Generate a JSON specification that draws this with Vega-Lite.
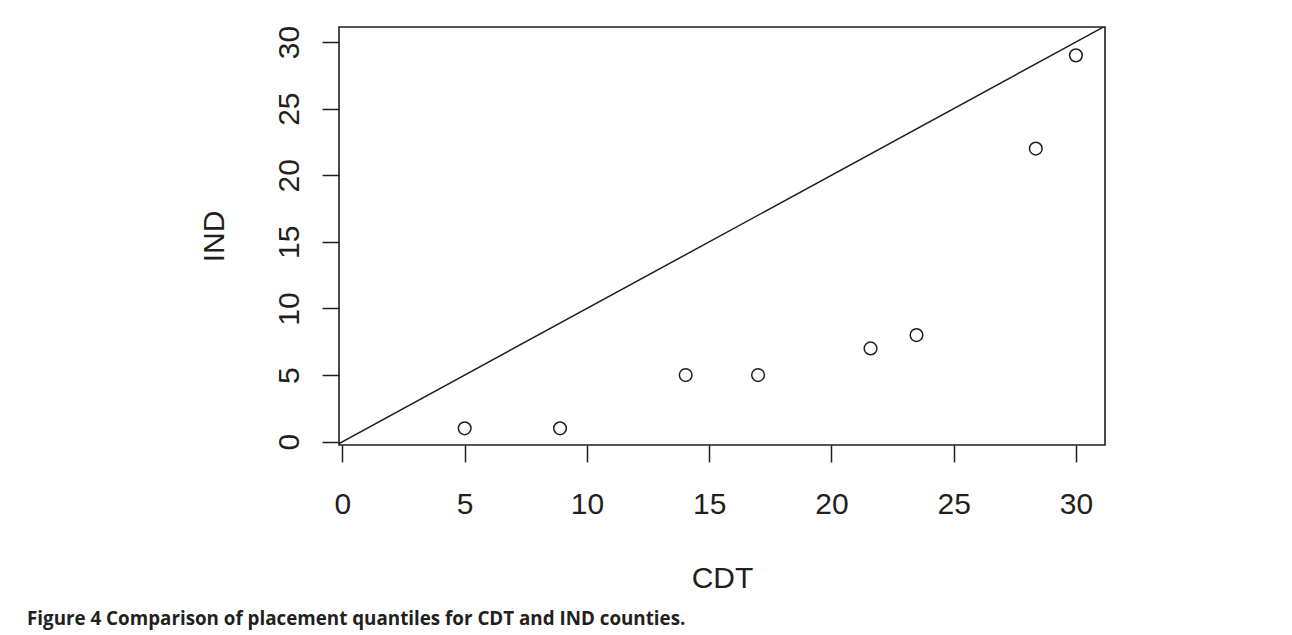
{
  "$schema": "https://vega.github.io/schema/vega-lite/v6.json",
  "autosize": {"type": "none"},
  "width": 766,
  "height": 418,
  "padding": {"left": 339, "top": 27, "right": 187, "bottom": 190},
  "background": "white",
  "title": {
    "text": "Figure 4 Comparison of placement quantiles for CDT and IND counties.",
    "orient": "bottom",
    "anchor": "start",
    "frame": "group",
    "dx": -312,
    "offset": 32,
    "baseline": "alphabetic",
    "font": "Open Sans",
    "fontWeight": "bold",
    "fontSize": 18.8,
    "color": "#231f20"
  },
  "config": {
    "view": {"stroke": "#231f20", "strokeWidth": 1.6},
    "axis": {
      "domain": false,
      "grid": false,
      "ticks": true,
      "tickColor": "#231f20",
      "tickWidth": 1.5,
      "tickSize": 17,
      "labelFont": "Liberation Sans",
      "labelFontSize": 30,
      "labelColor": "#231f20",
      "titleFont": "Liberation Sans",
      "titleFontSize": 30,
      "titleFontWeight": "normal",
      "titleColor": "#231f20"
    }
  },
  "layer": [
    {
      "data": {"values": [
        {"CDT": -0.3, "IND": -0.3},
        {"CDT": 31.3, "IND": 31.3}
      ]},
      "mark": {"type": "line", "color": "#231f20", "strokeWidth": 1.5, "clip": true},
      "encoding": {
        "x": {"field": "CDT", "type": "quantitative"},
        "y": {"field": "IND", "type": "quantitative"}
      }
    },
    {
      "data": {"values": [
        {"CDT": 5.0, "IND": 1},
        {"CDT": 8.9, "IND": 1},
        {"CDT": 14.04, "IND": 5},
        {"CDT": 17.0, "IND": 5},
        {"CDT": 21.6, "IND": 7},
        {"CDT": 23.48, "IND": 8},
        {"CDT": 28.36, "IND": 22},
        {"CDT": 30.0, "IND": 29}
      ]},
      "mark": {"type": "point", "shape": "circle", "filled": false, "size": 160, "stroke": "#231f20", "strokeWidth": 1.5, "opacity": 1},
      "encoding": {
        "x": {
          "field": "CDT", "type": "quantitative",
          "scale": {"domain": [-0.14, 31.19], "nice": false, "zero": false},
          "axis": {
            "title": "CDT",
            "values": [0, 5, 10, 15, 20, 25, 30],
            "labelBaseline": "alphabetic",
            "labelPadding": 51,
            "labelFlush": false,
            "labelOverlap": false,
            "titleBaseline": "alphabetic",
            "titleY": 142.4
          }
        },
        "y": {
          "field": "IND", "type": "quantitative",
          "scale": {"domain": [-0.25, 31.13], "nice": false, "zero": false},
          "axis": {
            "title": "IND",
            "values": [0, 5, 10, 15, 20, 25, 30],
            "labelAngle": -90,
            "labelAlign": "center",
            "labelBaseline": "alphabetic",
            "labelPadding": 24,
            "labelFlush": false,
            "labelOverlap": false,
            "titleAngle": -90,
            "titleAlign": "center",
            "titleBaseline": "alphabetic",
            "titleX": -116,
            "titleY": 209
          }
        }
      }
    }
  ]
}
